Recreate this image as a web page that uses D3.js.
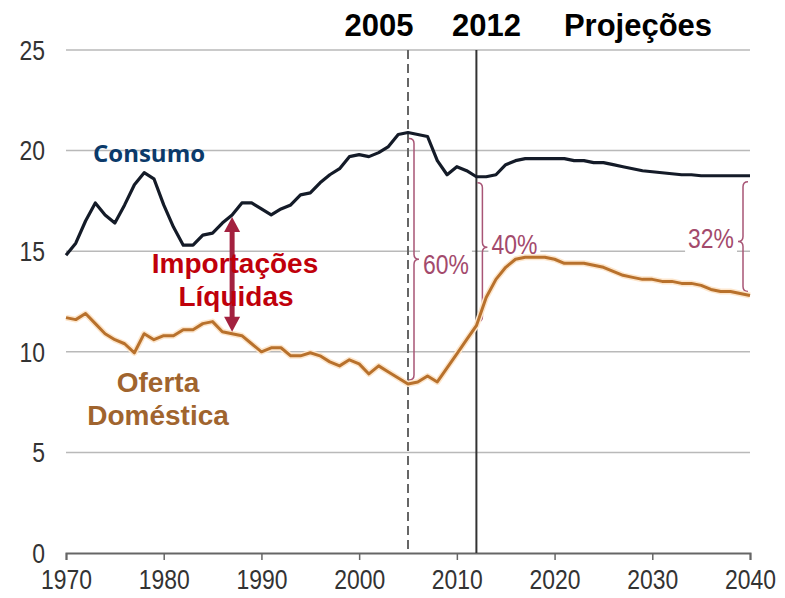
<!DOCTYPE html>
<html>
<head>
<meta charset="utf-8">
<script src="https://cdnjs.cloudflare.com/ajax/libs/d3/7.8.5/d3.min.js"></script>
<style>
  body { margin: 0; background: #fff; }
  svg { display: block; }
  .narrow { font-family: 'Liberation Sans', Arial, sans-serif; }
  .bold { font-family: 'Liberation Sans', Arial, sans-serif; font-weight: bold; }
</style>
</head>
<body>
<div id="chart"></div>
<script>
// years 1970 - 2040
var years = d3.range(1970, 2041);

// Consumo (milhões de barris/dia)
var consumo = [
  14.8, 15.4, 16.5, 17.4, 16.8, 16.4, 17.3, 18.3, 18.9, 18.6,
  17.3, 16.2, 15.3, 15.3, 15.8, 15.9, 16.4, 16.8, 17.4, 17.4,
  17.1, 16.8, 17.1, 17.3, 17.8, 17.9, 18.4, 18.8, 19.1, 19.7,
  19.8, 19.7, 19.9, 20.2, 20.8, 20.9, 20.8, 20.7, 19.5, 18.8,
  19.2, 19.0, 18.7, 18.7, 18.8, 19.3, 19.5, 19.6, 19.6, 19.6,
  19.6, 19.6, 19.5, 19.5, 19.4, 19.4, 19.3, 19.2, 19.1, 19.0,
  18.95, 18.9, 18.85, 18.8, 18.8, 18.75, 18.75, 18.75, 18.75, 18.75,
  18.75
];

// Oferta Doméstica
var oferta = [
  11.7, 11.6, 11.9, 11.4, 10.9, 10.6, 10.4, 9.95, 10.9, 10.6,
  10.8, 10.8, 11.1, 11.1, 11.4, 11.5, 11.0, 10.9, 10.8, 10.4,
  10.0, 10.2, 10.2, 9.8, 9.8, 9.95, 9.8, 9.5, 9.3, 9.6,
  9.4, 8.9, 9.3, 9.0, 8.7, 8.4, 8.5, 8.8, 8.5, 9.2,
  9.9, 10.6, 11.3, 12.7, 13.6, 14.2, 14.6, 14.7, 14.7, 14.7,
  14.6, 14.4, 14.4, 14.4, 14.3, 14.2, 14.0, 13.8, 13.7, 13.6,
  13.6, 13.5, 13.5, 13.4, 13.4, 13.3, 13.1, 13.0, 13.0, 12.9,
  12.8
];

var yTicks = [0, 5, 10, 15, 20, 25];
var xTicks = [1970, 1980, 1990, 2000, 2010, 2020, 2030, 2040];

// marked years and share of imports
var markers = [
  {year: 2005, label: '2005', dashed: true},
  {year: 2012, label: '2012', dashed: false}
];
var shares = [
  {year: 2005, label: '60%', side: 1},
  {year: 2012, label: '40%', side: 1},
  {year: 2040, label: '32%', side: -1}
];
var arrowYear = 1987;

var width = 785, height = 598;
var svg = d3.select('#chart').append('svg')
  .attr('width', width)
  .attr('height', height);

var x = d3.scaleLinear().domain([1970, 2040]).range([66, 750]);
var y = d3.scaleLinear().domain([0, 25]).range([553, 50]);

var squeeze = 0.85; // tick labels in the original are a narrow face

var data = years.map(function(yr, i) {
  return {year: yr, consumo: consumo[i], oferta: oferta[i]};
});
function valueAt(key, yr) {
  return data[years.indexOf(yr)][key];
}

// gridlines
svg.append('g')
  .selectAll('line')
  .data(yTicks.filter(function(d) { return d > 0; }))
  .enter().append('line')
    .attr('x1', x(1970))
    .attr('x2', x(2040))
    .attr('y1', function(d) { return y(d); })
    .attr('y2', function(d) { return y(d); })
    .attr('stroke', '#b9b9b9')
    .attr('stroke-width', 1.5);

// y labels
svg.append('g')
  .selectAll('text')
  .data(yTicks)
  .enter().append('text')
    .attr('class', 'narrow')
    .attr('transform', function(d) { return 'translate(45,' + y(d) + ') scale(' + squeeze + ',1)'; })
    .attr('dy', '0.36em')
    .attr('text-anchor', 'end')
    .attr('font-size', 27)
    .attr('fill', '#333')
    .text(function(d) { return d; });

// x axis
var xAxis = d3.axisBottom(x)
  .tickValues(xTicks)
  .tickFormat(d3.format('d'))
  .tickSize(7)
  .tickPadding(10);

var xAxisEle = svg.append('g')
  .attr('transform', 'translate(0,' + y(0) + ')')
  .call(xAxis);
xAxisEle.select('.domain').attr('stroke', '#666').attr('stroke-width', 2);
xAxisEle.selectAll('.tick line').attr('stroke', '#666').attr('stroke-width', 1.5);
xAxisEle.selectAll('.tick text')
  .attr('class', 'narrow')
  .attr('font-size', 27)
  .attr('fill', '#333')
  .attr('transform', 'scale(' + squeeze + ',1)');

// vertical marker lines
svg.append('g')
  .selectAll('line')
  .data(markers)
  .enter().append('line')
    .attr('x1', function(d) { return x(d.year); })
    .attr('x2', function(d) { return x(d.year); })
    .attr('y1', y(25))
    .attr('y2', y(0))
    .attr('stroke', function(d) { return d.dashed ? '#666' : '#333'; })
    .attr('stroke-width', 2)
    .attr('stroke-dasharray', function(d) { return d.dashed ? '9,5' : null; });

// header labels
svg.append('g')
  .selectAll('text')
  .data(markers)
  .enter().append('text')
    .attr('class', 'bold')
    .attr('x', function(d) { return x(d.year) + (d.dashed ? -29 : 10); })
    .attr('y', 36)
    .attr('text-anchor', 'middle')
    .attr('font-size', 31)
    .attr('fill', '#000')
    .text(function(d) { return d.label; });
svg.append('text')
  .attr('class', 'bold')
  .attr('x', 638)
  .attr('y', 36)
  .attr('text-anchor', 'middle')
  .attr('font-size', 31)
  .attr('fill', '#000')
  .text('Projeções');

// lines
var consumoLine = d3.line()
  .x(function(d) { return x(d.year); })
  .y(function(d) { return y(d.consumo); });
var ofertaLine = d3.line()
  .x(function(d) { return x(d.year); })
  .y(function(d) { return y(d.oferta); });

// braces between the two lines
function bracePath(bx, y1, y2, ym, dir) {
  var w = 5;
  return 'M' + (bx - dir * w) + ',' + y1 +
    'Q' + bx + ',' + y1 + ' ' + bx + ',' + (y1 + w) +
    'L' + bx + ',' + (ym - w) +
    'Q' + bx + ',' + ym + ' ' + (bx + dir * w) + ',' + ym +
    'Q' + bx + ',' + ym + ' ' + bx + ',' + (ym + w) +
    'L' + bx + ',' + (y2 - w) +
    'Q' + bx + ',' + y2 + ' ' + (bx - dir * w) + ',' + y2;
}

var braceG = svg.append('g');
shares.forEach(function(s) {
  var bx = s.side > 0 ? x(s.year) + 6 : x(s.year) - 7;
  var y1 = y(valueAt('consumo', s.year)) + 6;
  var y2 = y(valueAt('oferta', s.year)) - 4;
  var ym = (y1 + y2) / 2;
  if (s.year === 2012) ym -= 5;
  if (s.year === 2040) ym += 5;
  braceG.append('path')
    .attr('d', bracePath(bx, y1, y2, ym, s.side))
    .attr('fill', 'none')
    .attr('stroke', '#a85576')
    .attr('stroke-width', 1.5);
  var ty = s.year === 2005 ? ym + 5 : ym - 3;
  var t = braceG.append('text')
    .attr('class', 'narrow')
    .attr('transform', 'translate(' + (bx + s.side * 9) + ',' + ty + ') scale(' + squeeze + ',1)')
    .attr('dy', '0.36em')
    .attr('text-anchor', s.side > 0 ? 'start' : 'end')
    .attr('font-size', 27)
    .attr('fill', '#a34a6c')
    .text(s.label);
  var bb = t.node().getBoundingClientRect();
  braceG.insert('rect', 'text')
    .attr('x', bb.x - 3)
    .attr('y', bb.y)
    .attr('width', bb.width + 6)
    .attr('height', bb.height + 2)
    .attr('fill', '#fff');
});

svg.append('path')
  .datum(data)
  .attr('fill', 'none')
  .attr('stroke', '#fde6cc')
  .attr('stroke-width', 6)
  .attr('stroke-linejoin', 'round')
  .attr('d', ofertaLine);
svg.append('path')
  .datum(data)
  .attr('fill', 'none')
  .attr('stroke', '#b8712c')
  .attr('stroke-width', 3)
  .attr('stroke-linejoin', 'round')
  .attr('d', ofertaLine);
svg.append('path')
  .datum(data)
  .attr('fill', 'none')
  .attr('stroke', '#141b28')
  .attr('stroke-width', 3.2)
  .attr('stroke-linejoin', 'round')
  .attr('d', consumoLine);

// double arrow for net imports
var ax = x(arrowYear);
var aTop = y(valueAt('consumo', arrowYear)) + 2;
var aBot = y(valueAt('oferta', arrowYear)) - 2;
var arrowColor = '#a3213f';
svg.append('line')
  .attr('x1', ax).attr('x2', ax)
  .attr('y1', aTop + 12).attr('y2', aBot - 12)
  .attr('stroke', arrowColor)
  .attr('stroke-width', 5);
svg.append('path')
  .attr('d', 'M' + ax + ',' + aTop + 'L' + (ax - 8) + ',' + (aTop + 15) + 'L' + (ax + 8) + ',' + (aTop + 15) + 'Z')
  .attr('fill', arrowColor);
svg.append('path')
  .attr('d', 'M' + ax + ',' + aBot + 'L' + (ax - 8) + ',' + (aBot - 15) + 'L' + (ax + 8) + ',' + (aBot - 15) + 'Z')
  .attr('fill', arrowColor);

// series labels
svg.append('text')
  .attr('x', 93)
  .attr('y', 162)
  .attr('font-family', "'Open Sans', 'Noto Sans', sans-serif")
  .attr('font-weight', 'bold')
  .attr('font-size', 24)
  .attr('fill', '#0b3a6a')
  .text('Consumo');

var imp = svg.append('text')
  .attr('class', 'bold')
  .attr('text-anchor', 'middle')
  .attr('font-size', 28)
  .attr('fill', '#c0000b');
imp.append('tspan').attr('x', 235).attr('y', 273).text('Importações');
imp.append('tspan').attr('x', 236).attr('y', 306).text('Líquidas');

var of = svg.append('text')
  .attr('class', 'bold')
  .attr('text-anchor', 'middle')
  .attr('font-size', 28)
  .attr('fill', '#a0642e');
of.append('tspan').attr('x', 158).attr('y', 392).text('Oferta');
of.append('tspan').attr('x', 158).attr('y', 425).text('Doméstica');
</script>
</body>
</html>
